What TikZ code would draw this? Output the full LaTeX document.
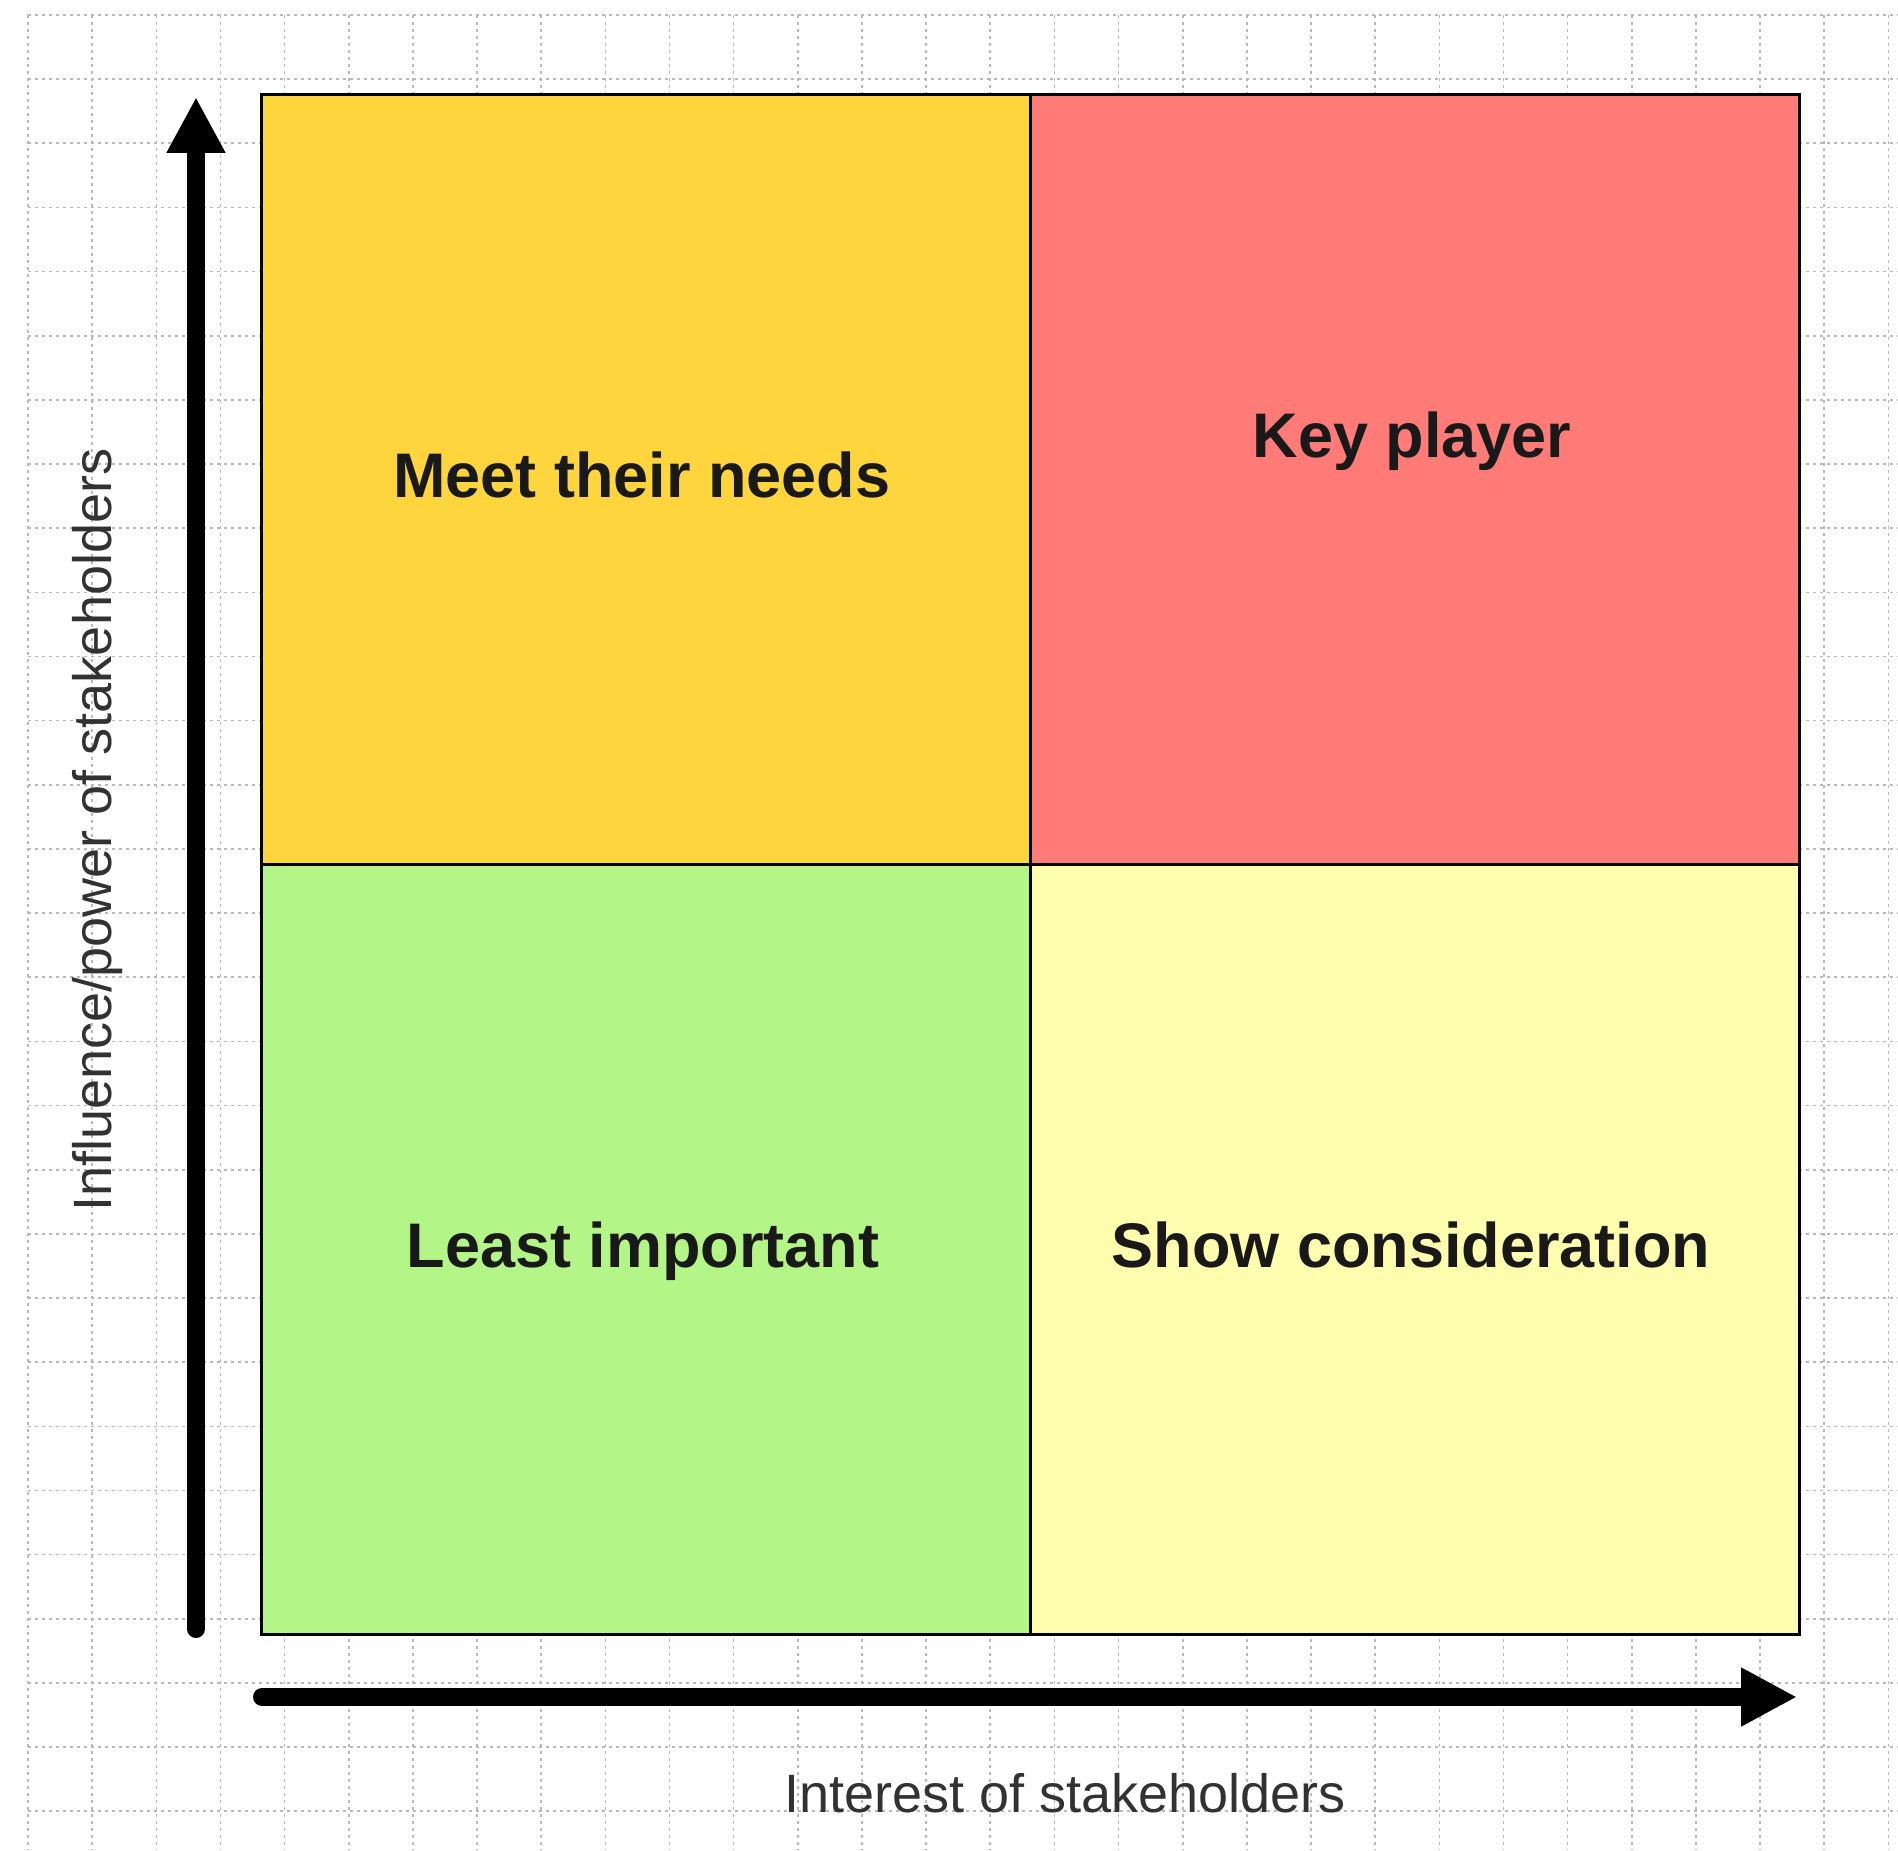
\documentclass[tikz,border=0pt]{standalone}
\usepackage{fontspec}
\setmainfont{Liberation Sans}
\usetikzlibrary{arrows.meta}
\definecolor{qorange}{RGB}{255,213,62}
\definecolor{qred}{RGB}{255,123,120}
\definecolor{qgreen}{RGB}{180,245,136}
\definecolor{qyellow}{RGB}{255,253,174}
\definecolor{gridgray}{RGB}{185,185,185}
\definecolor{axistext}{RGB}{50,50,50}
\tikzset{
  gridline/.style={draw=gridgray, line width=0.8pt, dash pattern=on 1.5pt off 2pt},
  quad/.style={draw=black, line width=1.4pt, minimum width=384.5pt, minimum height=385pt, inner sep=0pt, anchor=north west},
  quadtext/.style={font=\bfseries\fontsize{31.5pt}{36pt}\selectfont, text=black!90, anchor=base, inner sep=0pt},
  axislabel/.style={font=\fontsize{27pt}{32pt}\selectfont, text=axistext, anchor=base, inner sep=0pt},
  axisarrow/.style={line width=9pt, line cap=round, -{Triangle[length=28pt,width=27.5pt]}}
}
\begin{document}
\begin{tikzpicture}[x=0.5pt,y=-0.5pt]
\path[use as bounding box, fill=white] (0,0) rectangle (1898,1850);
% grid
\foreach \k in {0,...,28}{
  \draw[gridline] (28,{15+64.15*\k}) -- (1898,{15+64.15*\k});
}
\foreach \k in {0,...,29}{
  \draw[gridline] ({28+64.15*\k},15) -- ({28+64.15*\k},1850);
}
% quadrants
\node[quad, fill=qorange] (tl) at (260,93) {};
\node[quad, fill=qred] (tr) at (1029,93) {};
\node[quad, fill=qgreen] (bl) at (260,863) {};
\node[quad, fill=qyellow] (br) at (1029,863) {};
% quadrant labels
\node[quadtext] (meet) at (642,497) {Meet their needs};
\node[quadtext] (key) at (1412,458) {Key player};
\node[quadtext] (least) at (643,1267) {Least important};
\node[quadtext] (show) at (1411,1267) {Show consideration};
% axes
\coordinate (ybot) at (196,1629);
\coordinate (ytop) at (196,97);
\coordinate (xleft) at (262,1697);
\coordinate (xright) at (1797,1697);
\draw[axisarrow] (ybot) -- (ytop);
\draw[axisarrow] (xleft) -- (xright);
% axis labels
\node[axislabel] (xlab) at (1065,1812) {Interest of stakeholders};
\node[axislabel, rotate=90] (ylab) at (111,830) {Influence/power of stakeholders};
\end{tikzpicture}
\end{document}
